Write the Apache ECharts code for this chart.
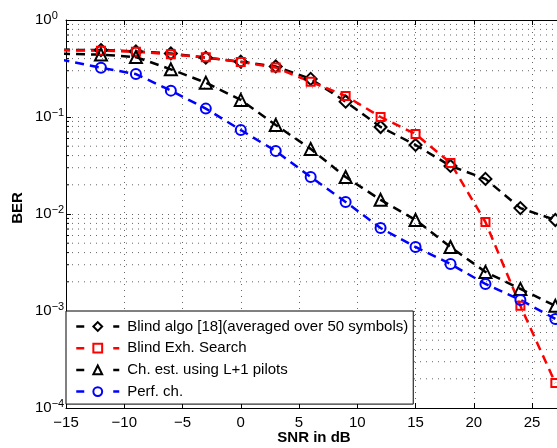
<!DOCTYPE html>
<html>
<head>
<meta charset="utf-8">
<script src="https://cdn.jsdelivr.net/npm/echarts@6/dist/echarts.min.js"></script>
<style>
  html, body { margin: 0; padding: 0; background: #fff; }
  #chart { width: 557px; height: 448px; }
</style>
</head>
<body>
<div id="chart"></div>
<script>
// SNR (dB) at which each curve was evaluated
const snr = [-18, -12, -9, -6, -3, 0, 3, 6, 9, 12, 15, 18, 21, 24, 27];

// Bit error rate per method
const blindAlgo = [0.495, 0.49, 0.474, 0.452, 0.409, 0.372, 0.332, 0.247, 0.144, 0.0789, 0.0515, 0.0313, 0.0230, 0.0115, 0.00867];
const blindExh  = [0.49, 0.483, 0.472, 0.443, 0.413, 0.369, 0.323, 0.231, 0.165, 0.100, 0.0668, 0.0336, 0.00827, 0.00113, 0.000181];
const chEst     = [0.455, 0.44, 0.415, 0.310, 0.226, 0.150, 0.0827, 0.0469, 0.0241, 0.0140, 0.00868, 0.00457, 0.00253, 0.00169, 0.00113];
const perfCh    = [0.45, 0.322, 0.277, 0.187, 0.122, 0.0734, 0.0446, 0.0241, 0.0133, 0.00717, 0.00457, 0.00305, 0.00190, 0.00130, 0.000828];

const seriesNames = [
  'Blind algo [18](averaged over 50 symbols)',
  'Blind Exh. Search',
  'Ch. est. using L+1 pilots',
  'Perf. ch.'
];

// Axis ranges and tick layout
const xMin = -15, xMax = 28, xStep = 5;
const yMin = 1e-4, yMax = 1;
const decades = [-4, -3, -2, -1];

// Intermediate log grid values 2..9 within every decade
const minorGridValues = [];
decades.forEach(function (e) {
  for (let m = 2; m <= 9; m++) minorGridValues.push(m * Math.pow(10, e));
});

const FONT = 'Liberation Sans, Arial, Helvetica, sans-serif';
const DASH = [9, 6];
const GRID_DOT = { color: '#666', width: 1, type: [1, 5] };

function pairs(ys) { return snr.map(function (x, i) { return [x, ys[i]]; }); }

function curve(name, data, color, symbol, size) {
  return {
    name: name,
    type: 'line',
    data: pairs(data),
    clip: true,
    symbol: symbol,
    symbolSize: size,
    showAllSymbol: true,
    lineStyle: { color: color, width: 2.5, type: DASH },
    itemStyle: { color: 'rgba(0,0,0,0)', borderColor: color, borderWidth: 2 },
    emphasis: { disabled: true },
    animation: false,
    z: 3
  };
}

const chart = echarts.init(document.getElementById('chart'), null, { renderer: 'canvas' });

chart.setOption({
  animation: false,
  backgroundColor: '#fff',
  textStyle: { fontFamily: FONT },
  // the axes run on past the right edge of the page
  grid: { left: 66, top: 20, width: 501, height: 388, containLabel: false, outerBoundsMode: 'none' },
  xAxis: [
    {
      type: 'value',
      min: xMin, max: xMax, interval: xStep,
      position: 'bottom',
      axisLine: { show: true, onZero: false, lineStyle: { color: '#000', width: 1 } },
      axisTick: { show: true, inside: true, length: 5, lineStyle: { color: '#000' } },
      axisLabel: {
        margin: 7, fontSize: 15, color: '#000', fontFamily: FONT,
        formatter: function (v) { return String(v).replace('-', '\u2212'); }
      },
      splitLine: { show: true, lineStyle: GRID_DOT }
    },
    {
      type: 'value',
      min: xMin, max: xMax, interval: xStep,
      position: 'top',
      axisLine: { show: true, onZero: false, lineStyle: { color: '#000', width: 1 } },
      axisTick: { show: true, inside: true, length: 5, lineStyle: { color: '#000' } },
      axisLabel: { show: false },
      splitLine: { show: false }
    }
  ],
  yAxis: {
    type: 'log',
    logBase: 10,
    min: yMin, max: yMax,
    axisLine: { show: true, onZero: false, lineStyle: { color: '#000', width: 1 } },
    axisTick: { show: true, inside: true, length: 5, lineStyle: { color: '#000' } },
    axisLabel: {
      align: 'left',
      margin: 31,
      color: '#000',
      formatter: function (v) {
        const e = Math.round(Math.log10(v));
        return '{b|10}{s|' + String(e).replace('-', '\u2212') + '}';
      },
      rich: {
        b: { fontSize: 15, fontFamily: FONT, color: '#000' },
        s: { fontSize: 11, fontFamily: FONT, color: '#000', padding: [0, 0, 8, 0] }
      }
    },
    splitLine: { show: true, lineStyle: GRID_DOT }
  },
  legend: {
    orient: 'vertical',
    left: 66,
    top: 311,
    data: seriesNames,
    backgroundColor: '#fff',
    borderColor: '#000',
    borderWidth: 1,
    borderRadius: 0,
    padding: [8, 5, 5, 9],
    itemGap: 6.7,
    itemWidth: 43,
    itemHeight: 11,
    lineStyle: { type: [8, 29], width: 2.5 },
    textStyle: { fontSize: 15, color: '#000', fontFamily: FONT, padding: [0, 0, 0, 3] },
    selectedMode: false
  },
  graphic: [
    {
      type: 'text',
      x: 314, y: 438,
      style: {
        text: 'SNR in dB', fontSize: 15, fontWeight: 'bold', fontFamily: FONT,
        fill: '#000', align: 'center', verticalAlign: 'middle'
      }
    },
    {
      type: 'text',
      x: 18, y: 208,
      rotation: Math.PI / 2,
      style: {
        text: 'BER', fontSize: 15, fontWeight: 'bold', fontFamily: FONT,
        fill: '#000', align: 'center', verticalAlign: 'middle'
      }
    }
  ],
  series: [
    {
      // intermediate log gridlines with their inside ticks on the left axis
      type: 'custom',
      silent: true,
      z: 1,
      data: minorGridValues.map(function (v) { return [xMin, v]; }),
      renderItem: function (params, api) {
        const v = api.value(1);
        const p0 = api.coord([xMin, v]);
        const p1 = api.coord([xMax, v]);
        return {
          type: 'group',
          children: [
            {
              type: 'line',
              shape: { x1: p0[0], y1: p0[1], x2: p1[0], y2: p1[1] },
              style: { stroke: GRID_DOT.color, lineWidth: 1, lineDash: GRID_DOT.type }
            },
            {
              type: 'line',
              shape: { x1: p0[0], y1: p0[1], x2: p0[0] + 3, y2: p0[1] },
              style: { stroke: '#000', lineWidth: 1 }
            }
          ]
        };
      }
    },
    curve(seriesNames[0], blindAlgo, '#000', 'diamond', 12),
    curve(seriesNames[1], blindExh, '#ff0000', 'rect', 8),
    curve(seriesNames[2], chEst, '#000', 'triangle', 12),
    curve(seriesNames[3], perfCh, '#0000ff', 'circle', 10)
  ]
});
</script>
</body>
</html>
